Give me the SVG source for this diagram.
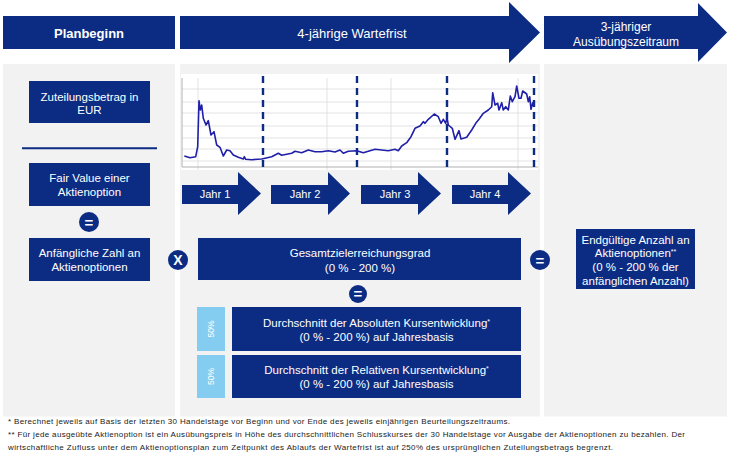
<svg xmlns="http://www.w3.org/2000/svg" width="732" height="455" viewBox="0 0 732 455">
<style>
.nv{fill:#0c2c84}
.pn{fill:#f2f2f2}
.t{font-family:"Liberation Sans",Arial,sans-serif;fill:#ffffff;text-anchor:middle}
.b{font-size:11.5px}
.h{font-size:13px}
.grid{stroke:#dcdcdc;stroke-width:0.8;fill:none}
.dash{stroke:#0c2c84;stroke-width:2.4;stroke-dasharray:7 5;fill:none}
.fn{font-family:"Liberation Sans",Arial,sans-serif;font-size:8px;fill:#1a1a1a}
.sup{font-size:7px}
</style>
<rect width="732" height="455" fill="#ffffff"/>
<g id="header-planbeginn">
<rect class="nv" x="3" y="16" width="172" height="33"/>
<text class="t h" x="89" y="37.5" font-weight="bold">Planbeginn</text>
</g>
<g id="header-wartefrist">
<polygon class="nv" points="180,16 509,16 509,2 540,32.5 509,63 509,49 180,49"/>
<text class="t h" x="352" y="37.5">4-jährige Wartefrist</text>
</g>
<g id="header-ausuebung">
<polygon class="nv" points="544,16 698,16 698,3 727,32.5 698,62 698,49 544,49"/>
<text class="t" x="626" y="31" font-size="12">3-jähriger</text>
<text class="t" x="626" y="46" font-size="12">Ausübungszeitraum</text>
</g>
<g id="panels">
<rect class="pn" x="3" y="64" width="172" height="352.5"/>
<rect class="pn" x="180" y="64" width="360" height="352.5"/>
<rect class="pn" x="544" y="64" width="183" height="352.5"/>
</g>
<g id="chart">
<rect x="181" y="74" width="357" height="96" fill="#ffffff"/>
<path class="grid" d="M182,89H538M182,102H538M182,113H538M182,126H538M182,138H538M182,149H538M182,161H538"/>
<path class="grid" d="M198,78V170M327,78V170M391,78V170M518,78V170"/>
<path d="M182,78V167H538" stroke="#b0b0b0" stroke-width="1" fill="none"/>
<path class="dash" d="M263,76V167M357,76V167M447,76V167M534,76V167"/>
<path fill="none" stroke="#1f1fa8" stroke-width="1.6" stroke-linejoin="round" d="M184.3,156 L190,157.7 L195.7,156.7 L197.7,146.7 L199,100.7 L200.3,110 L201.7,105 L203.3,118.3 L206,125 L208.3,120.7 L211,135 L214,131.7 L216.7,145 L220,147.3 L223.3,156 L226.7,150 L230,150.7 L233.3,155 L238.3,157.3 L243.3,159 L244.3,156.7 L245.7,159.3 L251.7,159.7 L261.7,159 L271.7,156.7 L278.3,153.3 L281.7,155.3 L291.7,153.3 L295,151.3 L301.7,152.7 L308.3,150 L315,151.7 L321.7,151.7 L328.3,150.7 L335,152 L340,150 L343.3,153.3 L348.3,151.3 L356.7,150.7 L363.3,152.7 L375,149.3 L388.3,150.7 L395,149.3 L398.3,150.7 L401.7,146 L406.7,142.7 L411,136.7 L415,128.3 L420,126 L423.3,121.7 L425,123.3 L428.3,119.3 L434.3,114 L438.3,116.7 L441,123.3 L443.3,119.3 L445.7,123.3 L447,117.3 L448.3,125 L452.3,128.3 L455,139.3 L459,130.7 L461,139 L466.7,137.3 L471.7,130 L475.7,123.3 L479,119.3 L483.3,113.3 L488.3,110 L491.7,106.7 L492.7,92.7 L495,105 L497.7,103.3 L499,110 L501.7,102.7 L503.3,110 L505.7,106.7 L508.3,110 L510.3,96 L512.3,101.7 L515,96.7 L516.7,86 L519,98.3 L521,98.3 L522.7,91 L526.7,94 L528.3,101.7 L529.7,96.7 L531,109.3 L532.7,102.7 L534.3,106.7"/>
</g>
<g id="jahr1">
<polygon class="nv" points="182,185 238,185 238,172 261,193.5 238,215 238,204 182,204"/>
<text class="t" x="215" y="197.5" font-size="11">Jahr 1</text>
</g>
<g id="jahr2">
<polygon class="nv" points="271,185 328,185 328,172 350,193.5 328,215 328,204 271,204"/>
<text class="t" x="305" y="197.5" font-size="11">Jahr 2</text>
</g>
<g id="jahr3">
<polygon class="nv" points="361,185 418,185 418,172 441,193.5 418,215 418,204 361,204"/>
<text class="t" x="395" y="197.5" font-size="11">Jahr 3</text>
</g>
<g id="jahr4">
<polygon class="nv" points="452,185 508,185 508,172 531,193.5 508,215 508,204 452,204"/>
<text class="t" x="485" y="197.5" font-size="11">Jahr 4</text>
</g>
<g id="zuteilungsbetrag">
<rect class="nv" x="29" y="81" width="121" height="42"/>
<text class="t b" x="89.5" y="100.7">Zuteilungsbetrag in</text>
<text class="t b" x="89.5" y="114">EUR</text>
</g>
<g id="separator">
<line x1="22" y1="148.3" x2="157" y2="148.3" stroke="#0c2c84" stroke-width="2"/>
</g>
<g id="fair-value">
<rect class="nv" x="29" y="163" width="121" height="43"/>
<text class="t b" x="89.5" y="182.3">Fair Value einer</text>
<text class="t b" x="89.5" y="195.7">Aktienoption</text>
</g>
<g id="eq-left">
<circle class="nv" cx="89" cy="222" r="10"/>
<text class="t" x="89" y="227.5" font-size="15" font-weight="bold">=</text>
</g>
<g id="anfaengliche-zahl">
<rect class="nv" x="29" y="238" width="121" height="43"/>
<text class="t b" x="89.5" y="257.3">Anfängliche Zahl an</text>
<text class="t b" x="89.5" y="270.7">Aktienoptionen</text>
</g>
<g id="times">
<circle class="nv" cx="178" cy="260" r="10"/>
<text class="t" x="178" y="265" font-size="14" font-weight="bold">X</text>
</g>
<g id="gesamtzielerreichungsgrad">
<rect class="nv" x="198" y="238" width="323" height="42"/>
<text class="t b" x="360" y="257">Gesamtzielerreichungsgrad</text>
<text class="t b" x="360" y="272">(0 % - 200 %)</text>
</g>
<g id="eq-right">
<circle class="nv" cx="540" cy="260" r="10"/>
<text class="t" x="540" y="265.5" font-size="15" font-weight="bold">=</text>
</g>
<g id="eq-middle">
<circle class="nv" cx="358" cy="294" r="9"/>
<text class="t" x="358" y="299.3" font-size="15" font-weight="bold">=</text>
</g>
<g id="endgueltige-anzahl">
<rect class="nv" x="576" y="229" width="119" height="60"/>
<text class="t b" x="635.5" y="243.5">Endgültige Anzahl an</text>
<text class="t b" x="635.5" y="257">Aktienoptionen<tspan class="sup" dy="-3">**</tspan></text>
<text class="t b" x="635.5" y="271">(0 % - 200 % der</text>
<text class="t b" x="635.5" y="285">anfänglichen Anzahl)</text>
</g>
<g id="absolute-kursentwicklung">
<rect x="197" y="307" width="28" height="44" fill="#85cdf0"/>
<text class="t" transform="translate(214,329) rotate(-90)" font-size="8.5" fill="#f4fbff">50%</text>
<rect class="nv" x="232" y="307" width="289" height="44"/>
<text class="t b" x="376.5" y="326.7">Durchschnitt der Absoluten Kursentwicklung<tspan class="sup" dy="-3">*</tspan></text>
<text class="t b" x="376.5" y="340.7">(0 % - 200 %) auf Jahresbasis</text>
</g>
<g id="relative-kursentwicklung">
<rect x="197" y="355" width="28" height="43" fill="#85cdf0"/>
<text class="t" transform="translate(214,376.5) rotate(-90)" font-size="8.5" fill="#f4fbff">50%</text>
<rect class="nv" x="232" y="355" width="289" height="43"/>
<text class="t b" x="376.5" y="374">Durchschnitt der Relativen Kursentwicklung<tspan class="sup" dy="-3">*</tspan></text>
<text class="t b" x="376.5" y="388">(0 % - 200 %) auf Jahresbasis</text>
</g>
<g id="connectors"></g>
<g id="footnotes">
<text class="fn" x="8" y="424" textLength="502" lengthAdjust="spacing">* Berechnet  jeweils auf Basis der letzten 30 Handelstage vor Beginn und vor Ende des jeweils einjährigen Beurteilungszeitraums.</text>
<text class="fn" x="8" y="437" textLength="677" lengthAdjust="spacing">** Für jede ausgeübte Aktienoption ist ein Ausübungspreis in Höhe des durchschnittlichen  Schlusskurses der 30 Handelstage vor Ausgabe der Aktienoptionen zu bezahlen.  Der</text>
<text class="fn" x="8" y="450" textLength="605" lengthAdjust="spacing">wirtschaftliche  Zufluss unter dem Aktienoptionsplan zum Zeitpunkt des Ablaufs der Wartefrist ist auf 250% des ursprünglichen  Zuteilungsbetrags begrenzt.</text>
</g>
</svg>
